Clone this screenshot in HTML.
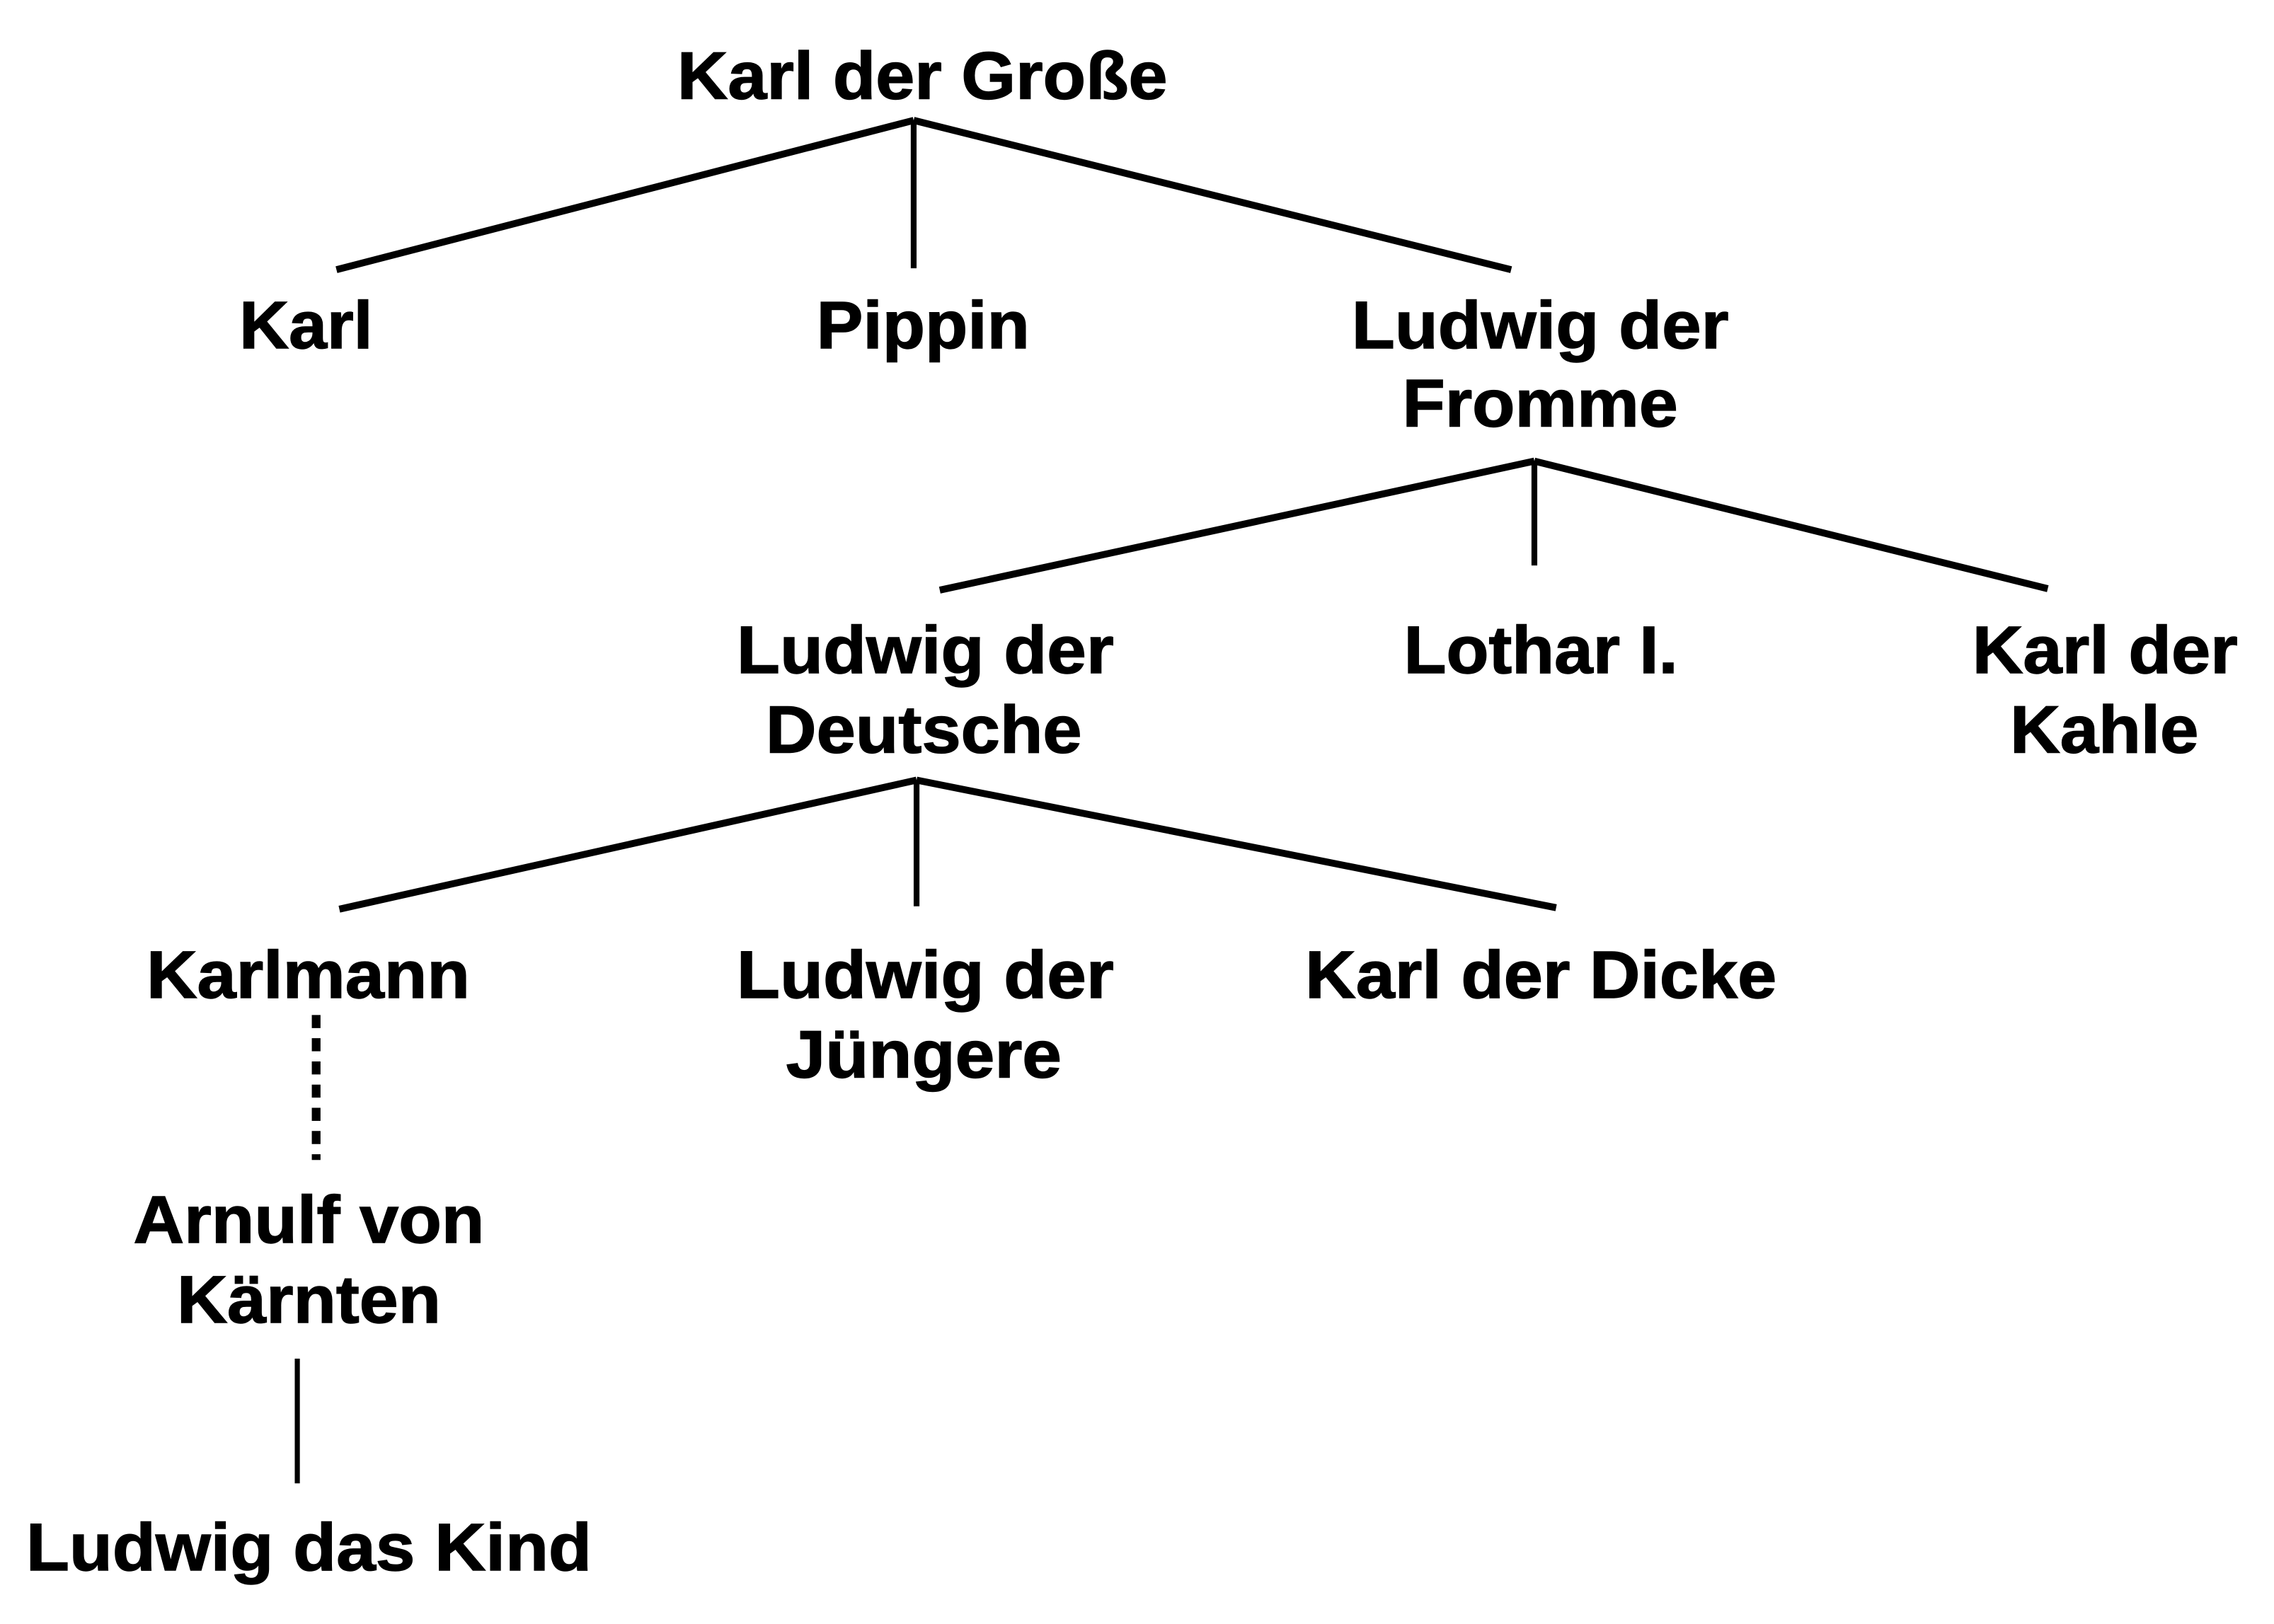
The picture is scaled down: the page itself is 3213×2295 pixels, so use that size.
<!DOCTYPE html>
<html><head><meta charset="utf-8"><style>
html,body{margin:0;padding:0;background:#fff;width:3213px;height:2295px;overflow:hidden}
svg{display:block}
text{font-family:"Liberation Sans",sans-serif;font-weight:bold;font-size:46px;fill:#000;stroke:#000;stroke-width:0.7}
</style></head><body>
<svg width="3213" height="2295" viewBox="0 0 1568 1120" preserveAspectRatio="none">
<g stroke="#000" stroke-width="4.8" fill="none">
<line x1="630" y1="83" x2="232" y2="186"/>
<line x1="630" y1="83" x2="630" y2="185" stroke-width="4"/>
<line x1="630" y1="83" x2="1042" y2="186"/>
<line x1="1058" y1="318" x2="648" y2="407"/>
<line x1="1058" y1="318" x2="1058" y2="390" stroke-width="4"/>
<line x1="1058" y1="318" x2="1412" y2="406"/>
<line x1="632" y1="538" x2="234" y2="627"/>
<line x1="632" y1="538" x2="632" y2="625" stroke-width="4"/>
<line x1="632" y1="538" x2="1073" y2="626"/>
<line x1="218" y1="700" x2="218" y2="800" stroke-width="6" stroke-dasharray="9 7"/>
<line x1="205" y1="937" x2="205" y2="1023" stroke-width="3.5"/>
</g>
<g>
<text x="467" y="68" textLength="338" lengthAdjust="spacingAndGlyphs">Karl der Große</text>
<text x="165" y="240" textLength="92" lengthAdjust="spacingAndGlyphs">Karl</text>
<text x="563" y="240" textLength="147" lengthAdjust="spacingAndGlyphs">Pippin</text>
<text x="932" y="240" textLength="260" lengthAdjust="spacingAndGlyphs">Ludwig der</text>
<text x="967" y="294" textLength="190" lengthAdjust="spacingAndGlyphs">Fromme</text>
<text x="508" y="464" textLength="260" lengthAdjust="spacingAndGlyphs">Ludwig der</text>
<text x="528" y="519" textLength="218" lengthAdjust="spacingAndGlyphs">Deutsche</text>
<text x="968" y="464" textLength="189" lengthAdjust="spacingAndGlyphs">Lothar I.</text>
<text x="1360" y="464" textLength="183" lengthAdjust="spacingAndGlyphs">Karl der</text>
<text x="1386" y="519" textLength="130" lengthAdjust="spacingAndGlyphs">Kahle</text>
<text x="101" y="688" textLength="223" lengthAdjust="spacingAndGlyphs">Karlmann</text>
<text x="508" y="688" textLength="260" lengthAdjust="spacingAndGlyphs">Ludwig der</text>
<text x="542" y="743" textLength="190" lengthAdjust="spacingAndGlyphs">Jüngere</text>
<text x="900" y="688" textLength="325" lengthAdjust="spacingAndGlyphs">Karl der Dicke</text>
<text x="92" y="857" textLength="242" lengthAdjust="spacingAndGlyphs">Arnulf von</text>
<text x="122" y="912" textLength="182" lengthAdjust="spacingAndGlyphs">Kärnten</text>
<text x="18" y="1083" textLength="390" lengthAdjust="spacingAndGlyphs">Ludwig das Kind</text>
</g>
</svg>
</body></html>
